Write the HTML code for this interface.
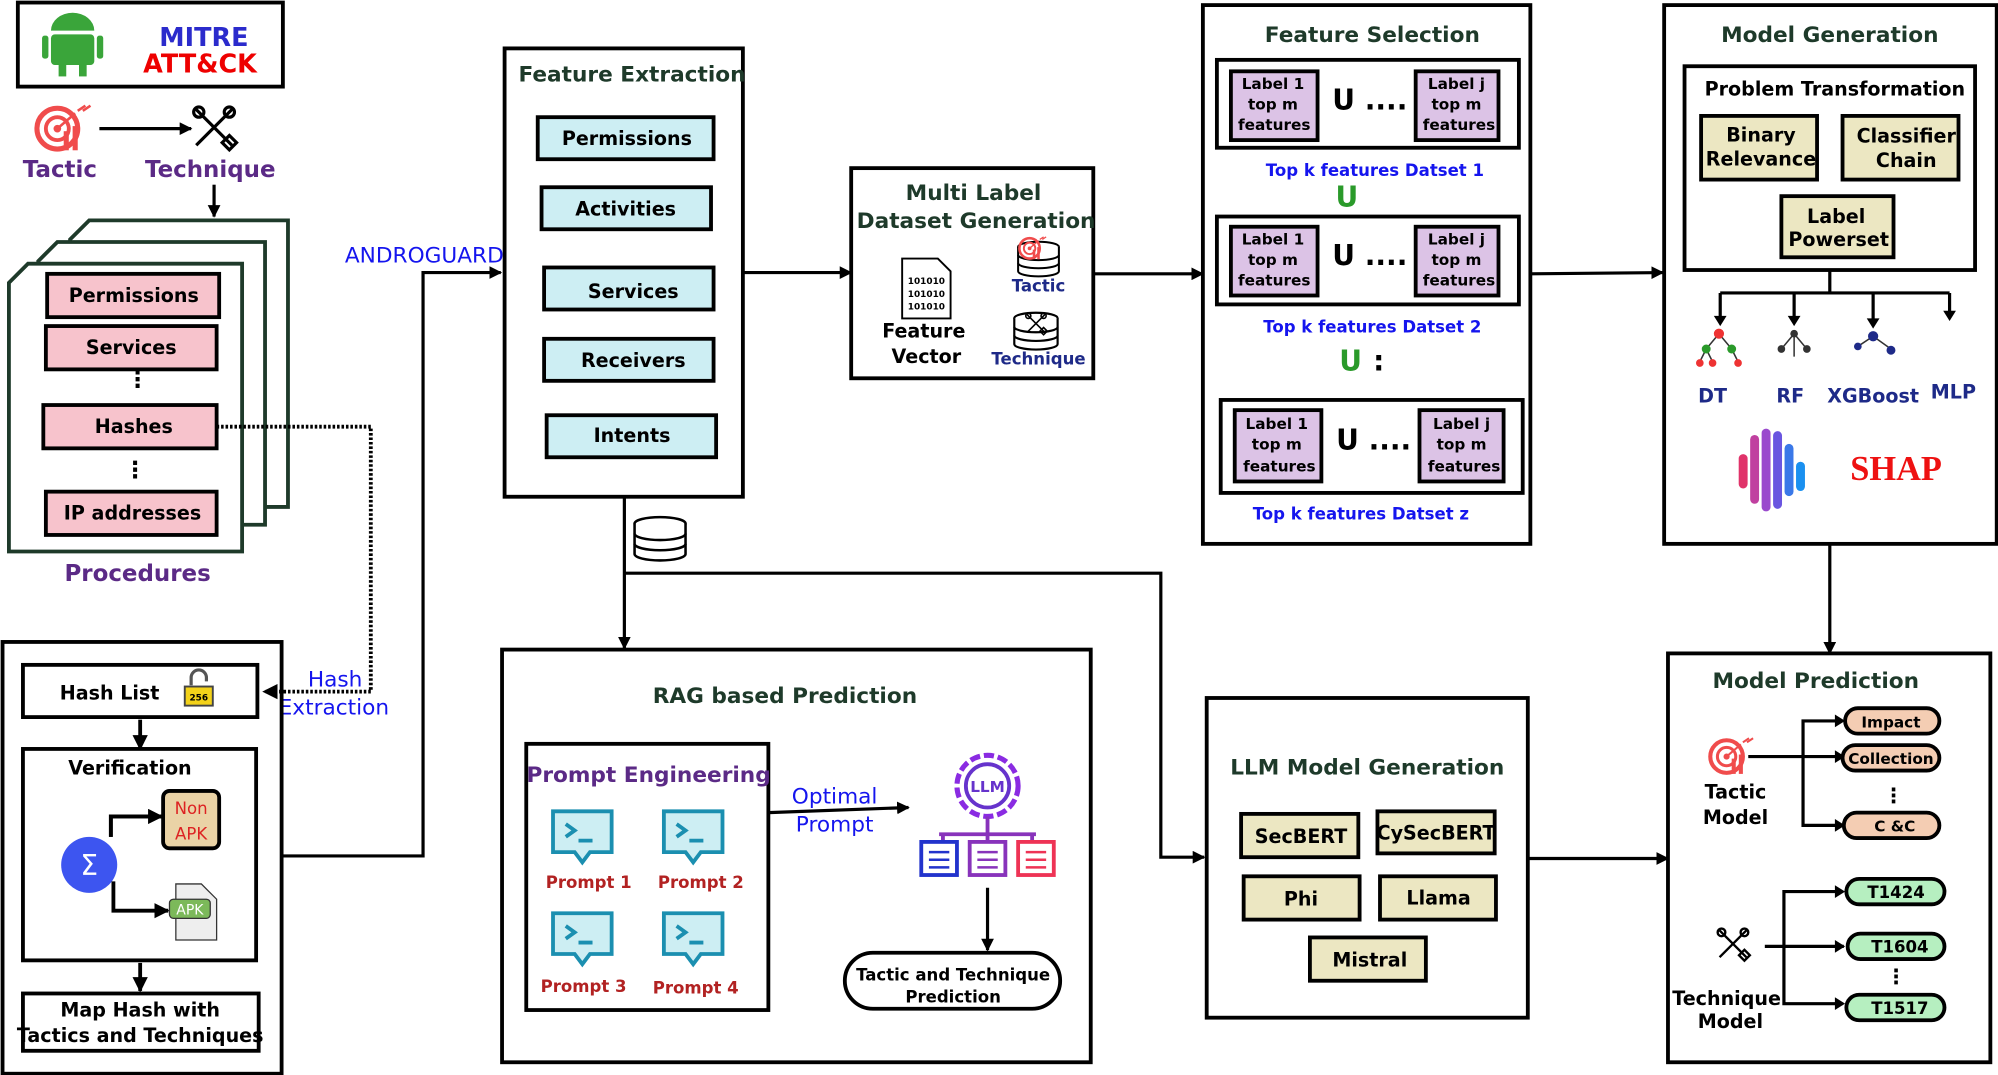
<!DOCTYPE html>
<html><head><meta charset="utf-8"><style>
html,body{margin:0;padding:0;background:#fff;}
svg{display:block;}
text{font-family:"DejaVu Sans","Liberation Sans",sans-serif;font-weight:bold;}
</style></head><body>
<svg width="1998" height="1075" viewBox="0 0 1568 844" preserveAspectRatio="none" xmlns="http://www.w3.org/2000/svg">
<defs>
<marker id="a" viewBox="0 0 10 10" refX="9" refY="5" markerWidth="4" markerHeight="4" orient="auto"><path d="M0,0L10,5L0,10z" fill="#000"/></marker>
<g id="tac"><circle cx="0" cy="0" r="16" fill="none" stroke="#f04c4c" stroke-width="4"/><circle cx="0" cy="0" r="9" fill="none" stroke="#f04c4c" stroke-width="3"/><circle cx="0" cy="0" r="3" fill="#f04c4c"/><path d="M0,0L14,-12M16,-14l6,-4m-2,4l6,-4" stroke="#f04c4c" stroke-width="2"/><rect x="5" y="2" width="4" height="15" fill="#f04c4c"/><rect x="12" y="-2" width="4" height="19" fill="#f04c4c"/></g>
<g id="tech" fill="none" stroke="#000" stroke-width="2.5"><path d="M-14,-14L14,14M14,-14L-14,14"/><circle cx="-12" cy="-12" r="4"/><circle cx="12" cy="-12" r="4"/><rect x="8" y="8" width="8" height="8" transform="rotate(45 12 12)"/></g>
<g id="prm"><path d="M-23,-20h46v32h-17l-6,8l-6,-8h-17z" fill="#cdeef3" stroke="#1b8fb0" stroke-width="3"/><path d="M-13,-10l7,5l-7,5M-3,3h11" stroke="#1b8fb0" stroke-width="3" fill="none"/></g>
<g id="db" fill="#fff" stroke="#000" stroke-width="2"><ellipse cx="0" cy="-12" rx="20" ry="5"/><path d="M-20,-12v24a20,5 0 0 0 40,0v-24"/><path d="M-20,-4a20,5 0 0 0 40,0M-20,4a20,5 0 0 0 40,0" fill="none"/></g>
</defs>
<g fill="none" stroke="#000" stroke-width="3">
<!-- MITRE -->
<rect x="14" y="2" width="208" height="66"/>
</g>
<rect x="40" y="27" width="34" height="24" rx="3" fill="#3aa53a"/><path d="M40,24a17,14 0 0 1 34,0z" fill="#3aa53a"/><rect x="33" y="28" width="5" height="18" rx="2" fill="#3aa53a"/><rect x="76" y="28" width="5" height="18" rx="2" fill="#3aa53a"/><rect x="46" y="50" width="6" height="10" fill="#3aa53a"/><rect x="62" y="50" width="6" height="10" fill="#3aa53a"/>
<text x="160" y="36" font-size="20" fill="#2b2bcc" text-anchor="middle">MITRE</text>
<text x="157" y="57" font-size="20" fill="#ee0000" text-anchor="middle">ATT&amp;CK</text>
<use href="#tac" x="45" y="101"/>
<use href="#tech" x="168" y="100"/>
<line x1="78" y1="101" x2="150" y2="101" stroke="#000" stroke-width="2.5" marker-end="url(#a)"/>
<text x="47" y="139" font-size="18" fill="#5b2a86" text-anchor="middle">Tactic</text>
<text x="165" y="139" font-size="18" fill="#5b2a86" text-anchor="middle">Technique</text>
<line x1="168" y1="145" x2="168" y2="170" stroke="#000" stroke-width="2.5" marker-end="url(#a)"/>
<!-- procedures -->
<g fill="#fff" stroke="#1e3a2a" stroke-width="3">
<path d="M70,173H226V398H55V188z"/>
<path d="M45,190H208V412H30V205z"/>
<path d="M22,207H190V433H7V222z"/>
</g>
<g fill="#f7c3cc" stroke="#000" stroke-width="3">
<rect x="37" y="215" width="135" height="34"/><rect x="36" y="256" width="134" height="34"/><rect x="34" y="318" width="136" height="34"/><rect x="36" y="386" width="134" height="34"/>
</g>
<g font-size="15" text-anchor="middle" fill="#000">
<text x="105" y="237">Permissions</text><text x="103" y="278">Services</text><text x="105" y="340">Hashes</text><text x="104" y="408">IP addresses</text>
</g>
<text x="108" y="304" font-size="18" text-anchor="middle">⋮</text>
<text x="106" y="375" font-size="18" text-anchor="middle">⋮</text>
<text x="108" y="456" font-size="18" fill="#5b2a86" text-anchor="middle">Procedures</text>
<path d="M170,335H291V543H207" fill="none" stroke="#000" stroke-width="3" stroke-dasharray="2,1.5" marker-end="url(#a)"/>
<text x="263" y="539" font-size="17" fill="#1515ee" text-anchor="middle" font-weight="normal" style="font-weight:normal">Hash</text>
<text x="262" y="561" font-size="17" fill="#1515ee" text-anchor="middle" style="font-weight:normal">Extraction</text>
<!-- left bottom -->
<g fill="none" stroke="#000" stroke-width="3">
<rect x="2" y="504" width="219" height="339"/>
<rect x="18" y="522" width="184" height="41"/>
<rect x="18" y="588" width="183" height="166"/>
<rect x="18" y="780" width="185" height="45"/>
</g>
<text x="86" y="549" font-size="15" text-anchor="middle">Hash List</text>
<path d="M150,538v-6a6,6 0 0 1 12,0v3" fill="none" stroke="#555" stroke-width="2.5"/><rect x="145" y="539" width="22" height="15" fill="#f3d21a" stroke="#444" stroke-width="1.5"/><text x="156" y="550" font-size="7" text-anchor="middle">256</text>
<line x1="110" y1="565" x2="110" y2="588" stroke="#000" stroke-width="3" marker-end="url(#a)"/>
<text x="102" y="608" font-size="15" text-anchor="middle">Verification</text>
<rect x="128" y="621" width="44" height="45" rx="5" fill="#ead3a6" stroke="#000" stroke-width="3"/>
<text x="150" y="639" font-size="13" fill="#dd2222" text-anchor="middle" style="font-weight:normal">Non</text>
<text x="150" y="659" font-size="13" fill="#dd2222" text-anchor="middle" style="font-weight:normal">APK</text>
<circle cx="70" cy="679" r="22" fill="#3d55f0"/><text x="70" y="687" font-size="22" fill="#fff" text-anchor="middle" style="font-weight:normal">Σ</text>
<path d="M87,657V641H127M89,692V715H132" fill="none" stroke="#000" stroke-width="3" marker-end="url(#a)"/>
<path d="M87,657V641H127" fill="none" stroke="#000" stroke-width="3" marker-end="url(#a)"/>
<path d="M138,694h20l12,12v32h-32z" fill="#eee" stroke="#333" stroke-width="1"/><rect x="133" y="706" width="32" height="15" rx="3" fill="#7cb95a" stroke="#333"/><text x="149" y="718" font-size="11" fill="#fff" text-anchor="middle" style="font-weight:normal">APK</text>
<line x1="110" y1="756" x2="110" y2="778" stroke="#000" stroke-width="3" marker-end="url(#a)"/>
<text x="110" y="798" font-size="15" text-anchor="middle">Map Hash with</text>
<text x="110" y="818" font-size="15" text-anchor="middle">Tactics and Techniques</text>
<path d="M221,672H332V214H393" fill="none" stroke="#000" stroke-width="2.5" marker-end="url(#a)"/>
<text x="333" y="206" font-size="17" fill="#1515ee" text-anchor="middle" style="font-weight:normal">ANDROGUARD</text>
<!-- feature extraction -->
<rect x="396" y="38" width="187" height="352" fill="none" stroke="#000" stroke-width="3"/>
<text x="496" y="64" font-size="17" fill="#1e3a2a" text-anchor="middle">Feature Extraction</text>
<g fill="#cdeef3" stroke="#000" stroke-width="3">
<rect x="422" y="92" width="138" height="33"/><rect x="425" y="147" width="133" height="33"/><rect x="427" y="210" width="133" height="33"/><rect x="427" y="266" width="133" height="33"/><rect x="429" y="326" width="133" height="33"/>
</g>
<g font-size="15" text-anchor="middle">
<text x="492" y="114">Permissions</text><text x="491" y="169">Activities</text><text x="497" y="234">Services</text><text x="497" y="288">Receivers</text><text x="496" y="347">Intents</text>
</g>
<line x1="583" y1="214" x2="668" y2="214" stroke="#000" stroke-width="2.5" marker-end="url(#a)"/>
<!-- multi label -->
<rect x="668" y="132" width="190" height="165" fill="none" stroke="#000" stroke-width="3"/>
<text x="764" y="157" font-size="17" fill="#1e3a2a" text-anchor="middle">Multi Label</text>
<text x="766" y="179" font-size="17" fill="#1e3a2a" text-anchor="middle">Dataset Generation</text>
<path d="M708,203h28l10,10v37h-38z" fill="#fff" stroke="#000" stroke-width="1.5"/>
<text x="727" y="223" font-size="7" text-anchor="middle">101010</text><text x="727" y="233" font-size="7" text-anchor="middle">101010</text><text x="727" y="243" font-size="7" text-anchor="middle">101010</text>
<text x="725" y="265" font-size="15" text-anchor="middle">Feature</text>
<text x="727" y="285" font-size="15" text-anchor="middle">Vector</text>
<use href="#db" x="815" y="203" transform="translate(163 41) scale(0.8)"/>
<use href="#tac" transform="translate(808 195) scale(0.5)"/>
<text x="815" y="229" font-size="13" fill="#1e2a88" text-anchor="middle">Tactic</text>
<use href="#db" transform="translate(813 260) scale(0.85)"/>
<use href="#tech" transform="translate(813 254) scale(0.5)"/>
<text x="815" y="286" font-size="13" fill="#1e2a88" text-anchor="middle">Technique</text>
<line x1="858" y1="215" x2="944" y2="215" stroke="#000" stroke-width="2.5" marker-end="url(#a)"/>
<!-- feature selection -->
<g fill="none" stroke="#000" stroke-width="3">
<rect x="944" y="4" width="257" height="423"/>
<rect x="955" y="47" width="237" height="69"/>
<rect x="955" y="170" width="237" height="69"/>
<rect x="958" y="314" width="237" height="73"/>
</g>
<text x="1077" y="33" font-size="17" fill="#1e3a2a" text-anchor="middle">Feature Selection</text>
<g fill="#dcc3e6" stroke="#000" stroke-width="3">
<rect x="966" y="56" width="68" height="54"/><rect x="1111" y="56" width="65" height="54"/>
<rect x="966" y="178" width="68" height="54"/><rect x="1111" y="178" width="65" height="54"/>
<rect x="969" y="322" width="68" height="56"/><rect x="1114" y="322" width="66" height="56"/>
</g>
<g font-size="12" text-anchor="middle">
<text x="999" y="70">Label 1</text><text x="999" y="86">top m</text><text x="1000" y="102">features</text>
<text x="1143" y="70">Label j</text><text x="1143" y="86">top m</text><text x="1145" y="102">features</text>
<text x="999" y="192">Label 1</text><text x="999" y="208">top m</text><text x="1000" y="224">features</text>
<text x="1143" y="192">Label j</text><text x="1143" y="208">top m</text><text x="1145" y="224">features</text>
<text x="1002" y="337">Label 1</text><text x="1002" y="353">top m</text><text x="1004" y="370">features</text>
<text x="1147" y="337">Label j</text><text x="1147" y="353">top m</text><text x="1149" y="370">features</text>
</g>
<g font-size="22" text-anchor="middle"><text x="1075" y="86">U ....</text><text x="1075" y="208">U ....</text><text x="1078" y="353">U ....</text></g>
<g font-size="13" fill="#1515ee" text-anchor="middle">
<text x="1079" y="138">Top k features Datset 1</text><text x="1077" y="261">Top k features Datset 2</text><text x="1068" y="408">Top k features Datset z</text>
</g>
<text x="1057" y="162" font-size="22" fill="#2a9a2a" text-anchor="middle">U</text>
<text x="1060" y="291" font-size="22" fill="#2a9a2a" text-anchor="middle">U</text>
<text x="1082" y="291" font-size="22" text-anchor="middle">:</text>
<line x1="1201" y1="215" x2="1305" y2="214" stroke="#000" stroke-width="2.5" marker-end="url(#a)"/>
<!-- model generation -->
<g fill="none" stroke="#000" stroke-width="3">
<rect x="1306" y="4" width="261" height="423"/><rect x="1322" y="52" width="228" height="160"/>
</g>
<text x="1436" y="33" font-size="17" fill="#1e3a2a" text-anchor="middle">Model Generation</text>
<text x="1440" y="75" font-size="15" text-anchor="middle">Problem Transformation</text>
<g fill="#ece7c2" stroke="#000" stroke-width="3">
<rect x="1335" y="91" width="91" height="50"/><rect x="1446" y="91" width="91" height="50"/><rect x="1398" y="154" width="88" height="48"/>
</g>
<g font-size="15" text-anchor="middle">
<text x="1382" y="111">Binary</text><text x="1382" y="130">Relevance</text><text x="1496" y="112">Classifier</text><text x="1496" y="131">Chain</text><text x="1441" y="175">Label</text><text x="1443" y="193">Powerset</text>
</g>
<path d="M1436,212V230M1350,230H1530M1350,230V250M1408,230V250M1470,230V252M1530,230V246" fill="none" stroke="#000" stroke-width="2.5"/>
<g fill="#000"><path d="M1345,248h10l-5,8z"/><path d="M1403,248h10l-5,8z"/><path d="M1465,250h10l-5,8z"/><path d="M1525,244h10l-5,8z"/></g>
<g stroke="#333" stroke-width="1.2" fill="none"><path d="M1349,262l-10,12M1349,262l10,12M1339,274l-5,10M1339,274l5,10M1359,274l5,10"/><path d="M1408,262l-10,12M1408,262l10,12M1408,262v18"/><path d="M1470,264l-12,8M1470,264l14,10"/></g>
<g fill="#2a9a2a"><circle cx="1349" cy="262" r="4" fill="#e33"/><circle cx="1339" cy="274" r="3.5"/><circle cx="1359" cy="274" r="3.5"/><circle cx="1334" cy="285" r="3" fill="#e33"/><circle cx="1344" cy="285" r="3" fill="#e33"/><circle cx="1364" cy="285" r="3" fill="#e33"/><circle cx="1408" cy="262" r="3" fill="#333"/><circle cx="1398" cy="274" r="3" fill="#333"/><circle cx="1418" cy="274" r="3" fill="#333"/><circle cx="1470" cy="264" r="4" fill="#1e2a88"/><circle cx="1458" cy="272" r="3" fill="#1e2a88"/><circle cx="1484" cy="275" r="3.5" fill="#1e2a88"/></g>
<g font-size="15" fill="#1e2a88" text-anchor="middle"><text x="1344" y="316">DT</text><text x="1405" y="316">RF</text><text x="1470" y="316">XGBoost</text><text x="1533" y="313">MLP</text></g>
<g stroke-linecap="round" stroke-width="7">
<line x1="1368" y1="360" x2="1368" y2="380" stroke="#e0336a"/><line x1="1377" y1="345" x2="1377" y2="392" stroke="#c040a0"/><line x1="1386" y1="340" x2="1386" y2="398" stroke="#9a4acd"/><line x1="1395" y1="342" x2="1395" y2="396" stroke="#6a55e0"/><line x1="1404" y1="352" x2="1404" y2="386" stroke="#3a78e8"/><line x1="1413" y1="366" x2="1413" y2="382" stroke="#1a90f0"/>
</g>
<text x="1488" y="377" font-size="27" fill="#ee1111" text-anchor="middle" style="font-family:'Liberation Serif',serif;font-weight:bold">SHAP</text>
<line x1="1436" y1="427" x2="1436" y2="513" stroke="#000" stroke-width="2.5" marker-end="url(#a)"/>
<!-- db & connectors -->
<use href="#db" x="518" y="423"/>
<line x1="490" y1="390" x2="490" y2="509" stroke="#000" stroke-width="2.5" marker-end="url(#a)"/>
<path d="M490,450H911V673H945" fill="none" stroke="#000" stroke-width="2.5" marker-end="url(#a)"/>
<!-- RAG -->
<g fill="none" stroke="#000" stroke-width="3"><rect x="394" y="510" width="462" height="324"/><rect x="413" y="584" width="190" height="209"/></g>
<text x="616" y="552" font-size="17" fill="#1e3a2a" text-anchor="middle">RAG based Prediction</text>
<text x="509" y="614" font-size="17" fill="#5b2a86" text-anchor="middle">Prompt Engineering</text>
<use href="#prm" x="457" y="657"/><use href="#prm" x="544" y="657"/><use href="#prm" x="457" y="737"/><use href="#prm" x="544" y="737"/>
<g font-size="13" fill="#b22222" text-anchor="middle"><text x="462" y="697">Prompt 1</text><text x="550" y="697">Prompt 2</text><text x="458" y="779">Prompt 3</text><text x="546" y="780">Prompt 4</text></g>
<line x1="603" y1="638" x2="713" y2="634" stroke="#000" stroke-width="2.5" marker-end="url(#a)"/>
<text x="655" y="631" font-size="17" fill="#1515ee" text-anchor="middle" style="font-weight:normal">Optimal</text>
<text x="655" y="653" font-size="17" fill="#1515ee" text-anchor="middle" style="font-weight:normal">Prompt</text>
<circle cx="775" cy="617" r="24" fill="none" stroke="#8a2be2" stroke-width="4" stroke-dasharray="8,3"/>
<circle cx="775" cy="617" r="17" fill="none" stroke="#6633cc" stroke-width="3"/>
<text x="775" y="622" font-size="12" fill="#6633cc" text-anchor="middle">LLM</text>
<path d="M775,641v14M737,655h76M740,655v6M775,655v6M810,655v6" fill="none" stroke="#8833bb" stroke-width="3"/>
<g fill="none" stroke-width="3"><rect x="723" y="661" width="28" height="26" stroke="#2233cc"/><rect x="761" y="661" width="28" height="26" stroke="#8833bb"/><rect x="799" y="661" width="28" height="26" stroke="#ee3355"/></g>
<path d="M729,669h16M729,675h16M729,681h16" stroke="#2233cc" stroke-width="2"/><path d="M767,669h16M767,675h16M767,681h16" stroke="#8833bb" stroke-width="2"/><path d="M805,669h16M805,675h16M805,681h16" stroke="#ee3355" stroke-width="2"/>
<line x1="775" y1="697" x2="775" y2="746" stroke="#000" stroke-width="2.5" marker-end="url(#a)"/>
<rect x="663" y="748" width="169" height="44" rx="22" fill="#fff" stroke="#000" stroke-width="3"/>
<text x="748" y="770" font-size="13" text-anchor="middle">Tactic and Technique</text>
<text x="748" y="787" font-size="13" text-anchor="middle">Prediction</text>
<!-- LLM model gen -->
<rect x="947" y="548" width="252" height="251" fill="none" stroke="#000" stroke-width="3"/>
<text x="1073" y="608" font-size="17" fill="#1e3a2a" text-anchor="middle">LLM Model Generation</text>
<g fill="#ece7c2" stroke="#000" stroke-width="3">
<rect x="974" y="639" width="92" height="34"/><rect x="1081" y="637" width="92" height="33"/><rect x="976" y="688" width="91" height="34"/><rect x="1083" y="688" width="91" height="34"/><rect x="1028" y="736" width="91" height="34"/>
</g>
<g font-size="15" text-anchor="middle"><text x="1021" y="662">SecBERT</text><text x="1127" y="659">CySecBERT</text><text x="1021" y="711">Phi</text><text x="1129" y="710">Llama</text><text x="1075" y="759">Mistral</text></g>
<line x1="1199" y1="674" x2="1309" y2="674" stroke="#000" stroke-width="2.5" marker-end="url(#a)"/>
<!-- model prediction -->
<rect x="1309" y="513" width="253" height="321" fill="none" stroke="#000" stroke-width="3"/>
<text x="1425" y="540" font-size="17" fill="#1e3a2a" text-anchor="middle">Model Prediction</text>
<use href="#tac" transform="translate(1355 594) scale(0.8)"/>
<text x="1362" y="627" font-size="15" text-anchor="middle">Tactic</text><text x="1362" y="647" font-size="15" text-anchor="middle">Model</text>
<path d="M1372,594H1447M1446,566H1415V648H1446" fill="none" stroke="#000" stroke-width="2.5"/>
<g fill="#000"><path d="M1440,561l8,5l-8,5z"/><path d="M1440,589l8,5l-8,5z"/><path d="M1440,643l8,5l-8,5z"/></g>
<g fill="#f4cdb3" stroke="#000" stroke-width="3"><rect x="1448" y="556" width="74" height="20" rx="10"/><rect x="1446" y="585" width="76" height="20" rx="10"/><rect x="1447" y="638" width="75" height="20" rx="10"/></g>
<g font-size="12" text-anchor="middle"><text x="1484" y="571">Impact</text><text x="1484" y="600">Collection</text><text x="1487" y="653">C &amp;C</text></g>
<text x="1486" y="630" font-size="16" text-anchor="middle">⋮</text>
<use href="#tech" transform="translate(1360 741) scale(0.75)"/>
<text x="1355" y="789" font-size="15" text-anchor="middle">Technique</text><text x="1358" y="807" font-size="15" text-anchor="middle">Model</text>
<path d="M1385,743H1447M1446,700H1400V788H1446" fill="none" stroke="#000" stroke-width="2.5"/>
<g fill="#000"><path d="M1440,695l8,5l-8,5z"/><path d="M1440,738l8,5l-8,5z"/><path d="M1440,783l8,5l-8,5z"/></g>
<g fill="#b6efc0" stroke="#000" stroke-width="3"><rect x="1449" y="690" width="77" height="20" rx="10"/><rect x="1450" y="733" width="76" height="20" rx="10"/><rect x="1449" y="781" width="77" height="20" rx="10"/></g>
<g font-size="13" text-anchor="middle"><text x="1488" y="705">T1424</text><text x="1491" y="748">T1604</text><text x="1491" y="796">T1517</text></g>
<text x="1488" y="772" font-size="16" text-anchor="middle">⋮</text>
</svg>
</body></html>
